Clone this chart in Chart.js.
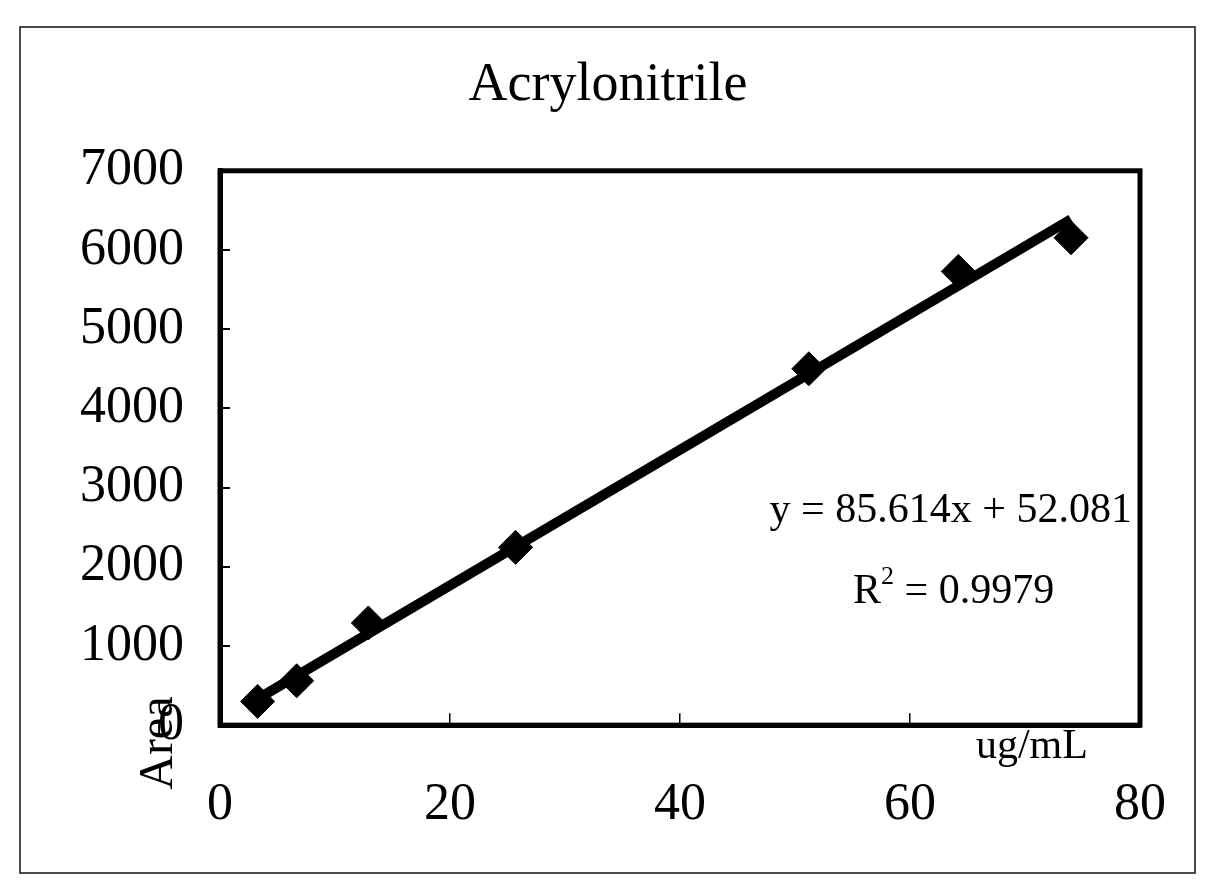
<!DOCTYPE html>
<html>
<head>
<meta charset="utf-8">
<title>Acrylonitrile</title>
<script src="https://cdn.jsdelivr.net/npm/chart.js@4.4.1/dist/chart.umd.min.js"></script>
<style>
  html, body { margin: 0; padding: 0; background: #fff; }
  #chart { display: block; }
</style>
</head>
<body>
<canvas id="chart" width="1208" height="890"></canvas>
<script>
// calibration points
const concentration = [3.27, 6.67, 12.9, 25.7, 51.2, 64.2, 74.0]; // ug/mL
const area = [300, 560, 1290, 2245, 4500, 5730, 6155];
// trendline as printed on the chart
const slope = 85.614;
const intercept = 52.081;
const rSquared = 0.9979;
// axis ticks
const xTicks = [0, 20, 40, 60, 80];
const yTicks = [0, 1000, 2000, 3000, 4000, 5000, 6000, 7000];

const serif = "'Liberation Serif', 'Times New Roman', serif";

document.addEventListener('DOMContentLoaded', function() {
    const points = concentration.map((c, i) => ({ x: c, y: area[i] }));
    const xMin = Math.min(...concentration);
    const xMax = Math.max(...concentration);
    const trend = [xMin, xMax].map(c => ({ x: c, y: slope * c + intercept }));

    // page frame, plot box and the free text (equation, axis names)
    const decor = {
        id: 'decor',
        beforeDraw(chart) {
            const ctx = chart.ctx;
            ctx.save();
            ctx.fillStyle = '#fff';
            ctx.fillRect(0, 0, chart.width, chart.height);
            ctx.strokeStyle = '#111';
            ctx.lineWidth = 1.5;
            ctx.strokeRect(20, 27, 1175, 846);
            ctx.restore();
        },
        afterDraw(chart) {
            const { ctx, chartArea: a, scales: { x, y } } = chart;
            ctx.save();
            ctx.strokeStyle = '#000';
            ctx.lineWidth = 5;
            ctx.strokeRect(a.left, a.top, a.right - a.left, a.bottom - a.top);

            ctx.fillStyle = '#000';
            ctx.textBaseline = 'middle';

            // y = 85.614x + 52.081
            ctx.font = '42px ' + serif;
            ctx.textAlign = 'right';
            ctx.fillText('y = ' + slope + 'x + ' + intercept, x.getPixelForValue(79.3), y.getPixelForValue(2700));

            // R² = 0.9979
            const rx = x.getPixelForValue(63.8);
            const ry = y.getPixelForValue(1680);
            const rest = ' = ' + rSquared;
            const wR = ctx.measureText('R').width;
            const wRest = ctx.measureText(rest).width;
            ctx.font = '26px ' + serif;
            const w2 = ctx.measureText('2').width;
            let sx = rx - (wR + w2 + wRest) / 2;
            ctx.textAlign = 'left';
            ctx.font = '42px ' + serif;
            ctx.fillText('R', sx, ry);
            ctx.font = '26px ' + serif;
            ctx.fillText('2', sx + wR, ry - 15);
            ctx.font = '42px ' + serif;
            ctx.fillText(rest, sx + wR + w2, ry);

            // x axis name under the right end of the axis
            ctx.font = '42px ' + serif;
            ctx.textAlign = 'center';
            ctx.fillText('ug/mL', x.getPixelForValue(70.6), a.bottom + 22);

            // y axis name, vertical, bottom left
            ctx.translate(a.left - 61, a.bottom + 18);
            ctx.rotate(-Math.PI / 2);
            ctx.font = '48px ' + serif;
            ctx.fillText('Area', 0, 0);
            ctx.restore();
        }
    };

    const ctx = document.getElementById('chart').getContext('2d');
    new Chart(ctx, {
        type: 'scatter',
        data: {
            datasets: [{
                label: 'Area',
                data: points,
                pointStyle: 'rectRot',
                pointRadius: 17,
                backgroundColor: '#000',
                borderColor: '#000',
                borderWidth: 1,
                order: 0
            }, {
                type: 'line',
                label: 'Linear',
                data: trend,
                borderColor: '#000',
                borderWidth: 10,
                pointRadius: 0,
                fill: false,
                order: 1
            }]
        },
        options: {
            responsive: false,
            animation: false,
            devicePixelRatio: 1,
            layout: { padding: { top: 0, left: 34, right: 26, bottom: -7 } },
            plugins: {
                legend: { display: false },
                tooltip: { enabled: false },
                title: {
                    display: true,
                    text: 'Acrylonitrile',
                    color: '#000',
                    font: { family: serif, size: 54, weight: 'normal' },
                    padding: { top: 53, bottom: 53 }
                }
            },
            scales: {
                x: {
                    type: 'linear',
                    min: xTicks[0],
                    max: xTicks[xTicks.length - 1],
                    afterBuildTicks: s => { s.ticks = xTicks.map(v => ({ value: v })); },
                    border: { display: true, color: '#000', width: 5 },
                    grid: { drawOnChartArea: false, drawTicks: true, tickLength: -12, color: '#000', lineWidth: 1.5 },
                    ticks: { color: '#000', padding: 42, maxRotation: 0,
                             font: { family: serif, size: 52, lineHeight: 1.92 },
                             callback: v => String(v) }
                },
                y: {
                    type: 'linear',
                    min: yTicks[0],
                    max: yTicks[yTicks.length - 1],
                    afterBuildTicks: s => { s.ticks = yTicks.map(v => ({ value: v })); },
                    border: { display: true, color: '#000', width: 5 },
                    grid: { drawOnChartArea: false, drawTicks: true, tickLength: -10, color: '#000', lineWidth: 2 },
                    ticks: { color: '#000', padding: 46, font: { family: serif, size: 52 },
                             callback: v => String(v) }
                }
            }
        },
        plugins: [decor]
    });
});
</script>
</body>
</html>
